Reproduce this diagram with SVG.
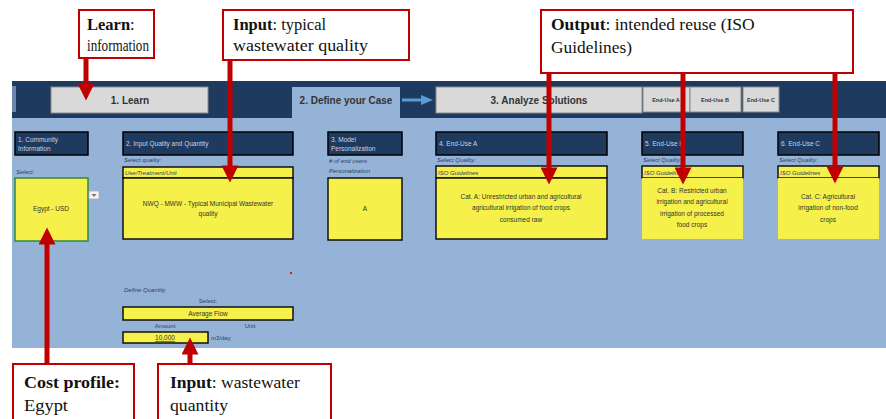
<svg xmlns="http://www.w3.org/2000/svg" width="886" height="419" viewBox="0 0 886 419">
<defs>
<marker id="ah" viewBox="0 0 10 10" refX="5" refY="5" markerWidth="4" markerHeight="3.4" markerUnits="strokeWidth" orient="auto">
<path d="M0,0 L10,5 L0,10 Z" fill="#c00000"/>
</marker>
</defs>
<style>
.call{fill:#fff;stroke:#c00000;stroke-width:2}
.ct{font-family:"Liberation Serif",serif;font-size:16.5px;fill:#111}
.b{font-weight:bold}
.hdr{fill:#1f3a5f;stroke:#000;stroke-width:1.5}
.ht{font-family:"Liberation Sans",sans-serif;font-size:6.5px;fill:#c8d4e6}
.yel{fill:#f5f04a;stroke:#111;stroke-width:1.5}
.yt{font-family:"Liberation Sans",sans-serif;font-size:6.5px;fill:#333;text-anchor:middle}
.lbl{font-family:"Liberation Sans",sans-serif;font-size:6px;fill:#2b3f66;font-style:italic}
.lblc{font-family:"Liberation Sans",sans-serif;font-size:6px;fill:#2b3f66;text-anchor:middle}
.btn{fill:#d9d9d9;stroke:#8a8a8a;stroke-width:1}
.bt{font-family:"Liberation Sans",sans-serif;font-weight:bold;fill:#333;text-anchor:middle}
.arr{stroke:#c00000;stroke-width:5;fill:none;marker-end:url(#ah)}
</style>
<rect width="886" height="419" fill="#fff"/>
<g id="panel">
<rect x="12" y="81" width="874" height="267" fill="#95b3d7"/>
<rect x="12" y="81" width="874" height="37" fill="#1f3a5f"/>
<rect x="12" y="86" width="4" height="26" fill="#6b86ad"/>
<rect x="292" y="87" width="108" height="31" fill="#95b3d7"/>
<text x="346" y="104" class="bt" font-size="10">2. Define your Case</text>
<path d="M402,100 H424" stroke="#5b9bd5" stroke-width="3"/>
<path d="M421,95 L433,100 L421,105 Z" fill="#5b9bd5"/>
</g>
<g id="tab-learn">
<rect x="51" y="87" width="157" height="26" class="btn"/>
<text x="130" y="104" class="bt" font-size="10">1. Learn</text>
</g>
<g id="tab-analyze">
<rect x="436" y="87" width="206" height="26" class="btn"/>
<text x="539" y="104" class="bt" font-size="10">3. Analyze Solutions</text>
<rect x="643" y="87" width="47" height="25" class="btn"/>
<text x="666" y="102" class="bt" font-size="5.5">End-Use A</text>
<rect x="690" y="87" width="51" height="25" class="btn"/>
<text x="715" y="102" class="bt" font-size="5.5">End-Use B</text>
<rect x="743" y="87" width="36" height="25" class="btn"/>
<text x="761" y="102" class="bt" font-size="5.5">End-Use C</text>
</g>
<g id="col1">
<rect x="15" y="132" width="73" height="23" class="hdr"/>
<text x="18" y="142" class="ht">1. Community</text>
<text x="18" y="151" class="ht">Information</text>
<text x="16" y="174" class="lbl">Select:</text>
<rect x="15" y="178" width="73" height="63" fill="#f5f04a" stroke="#2e8b3a" stroke-width="1.5"/>
<text x="51" y="211" class="yt">Egypt - USD</text>
<rect x="89" y="191" width="10" height="8" fill="#f2f2f2" stroke="#aaa" stroke-width="0.7"/>
<path d="M91.5,194 L96.5,194 L94,197 Z" fill="#777"/>
</g>
<g id="col2">
<rect x="123" y="132" width="170" height="23" class="hdr"/>
<text x="126" y="146" class="ht">2. Input Quality and Quantity</text>
<text x="124" y="162" class="lbl">Select quality:</text>
<rect x="123" y="167" width="170" height="11" class="yel"/>
<text x="125" y="175" class="lbl" fill="#333">Use/Treatment/Unit</text>
<rect x="123" y="178" width="170" height="61" class="yel"/>
<text x="208" y="206" class="yt">NWQ - MWW - Typical Municipal Wastewater</text>
<text x="208" y="216" class="yt">quality</text>
<circle cx="291" cy="273" r="1.2" fill="#e02020"/>
</g>
<g id="col3">
<rect x="328" y="132" width="74" height="23" class="hdr"/>
<text x="331" y="142" class="ht">3. Model</text>
<text x="331" y="151" class="ht">Personalization</text>
<text x="329" y="163" class="lbl"># of end users</text>
<text x="329" y="173" class="lbl">Personalization</text>
<rect x="328" y="178" width="74" height="62" class="yel"/>
<text x="365" y="211" class="yt">A</text>
</g>
<g id="col4">
<rect x="436" y="132" width="171" height="23" class="hdr"/>
<text x="439" y="146" class="ht">4. End-Use A</text>
<text x="437" y="162" class="lbl">Select Quality:</text>
<rect x="436" y="166" width="171" height="12" class="yel"/>
<text x="438" y="174.5" class="lbl" fill="#333">ISO Guidelines</text>
<rect x="436" y="178" width="171" height="61" class="yel"/>
<text x="521" y="199" class="yt">Cat. A: Unrestricted urban and agricultural</text>
<text x="521" y="210" class="yt">agricultural irrigation of food crops</text>
<text x="521" y="222" class="yt">consumed raw</text>
</g>
<g id="col5">
<rect x="642" y="132" width="101" height="23" class="hdr"/>
<text x="645" y="146" class="ht">5. End-Use B</text>
<text x="643" y="162" class="lbl">Select Quality:</text>
<rect x="642" y="166" width="101" height="12" class="yel"/>
<text x="644" y="174.5" class="lbl" fill="#333">ISO Guidelines</text>
<rect x="642" y="178" width="101" height="61" fill="#f5f04a"/>
<text x="692" y="193" class="yt">Cat. B: Restricted urban</text>
<text x="692" y="204" class="yt">irrigation and agricultural</text>
<text x="692" y="216" class="yt">irrigation of processed</text>
<text x="692" y="227" class="yt">food crops</text>
</g>
<g id="col6">
<rect x="778" y="132" width="101" height="23" class="hdr"/>
<text x="781" y="146" class="ht">6. End-Use C</text>
<text x="779" y="162" class="lbl">Select Quality:</text>
<rect x="778" y="166" width="101" height="12" class="yel"/>
<text x="780" y="174.5" class="lbl" fill="#333">ISO Guidelines</text>
<rect x="778" y="178" width="101" height="61" fill="#f5f04a"/>
<text x="828" y="199" class="yt">Cat. C: Agricultural</text>
<text x="828" y="210" class="yt">irrigation of non-food</text>
<text x="828" y="222" class="yt">crops</text>
</g>
<g id="quantity">
<text x="124" y="292" class="lbl">Define Quantity</text>
<text x="208" y="303" class="lblc">Select:</text>
<rect x="123" y="307" width="170" height="13" class="yel"/>
<text x="208" y="316" class="yt">Average Flow</text>
<text x="165" y="328" class="lblc">Amount</text>
<text x="250" y="328" class="lblc">Unit</text>
<rect x="123" y="332" width="85" height="11" class="yel"/>
<text x="165" y="340" class="yt" text-decoration="underline">10,000</text>
<text x="211" y="340" class="lbl" style="font-style:normal">m3/day</text>
</g>
<g id="connectors">
<path d="M86,58 V92" class="arr"/>
<path d="M230,60 V174" class="arr"/>
<path d="M549,73 V176" class="arr"/>
<path d="M683,73 V176" class="arr"/>
<path d="M835,73 V175" class="arr"/>
<path d="M47,364 V236" class="arr"/>
<path d="M190,364 V346" class="arr"/>
</g>
<g id="callout-learn">
<rect x="79" y="10" width="75" height="48" class="call"/>
<text x="87" y="30" class="ct"><tspan class="b">Learn</tspan>:</text>
<text x="87" y="51" class="ct" textLength="62" lengthAdjust="spacingAndGlyphs">information</text>
</g>
<g id="callout-input-quality">
<rect x="223" y="10" width="186" height="50" class="call"/>
<text x="233" y="30" class="ct"><tspan class="b">Input</tspan>: typical</text>
<text x="233" y="51" class="ct" textLength="135" lengthAdjust="spacingAndGlyphs">wastewater quality</text>
</g>
<g id="callout-output">
<rect x="541" y="10" width="312" height="63" class="call"/>
<text x="551" y="30" class="ct" style="font-size:17.5px"><tspan class="b">Output</tspan>: intended reuse (ISO</text>
<text x="551" y="53" class="ct" textLength="81" lengthAdjust="spacingAndGlyphs">Guidelines)</text>
</g>
<g id="callout-cost">
<rect x="13" y="364" width="121" height="56" class="call"/>
<text x="24" y="388" class="ct b" textLength="96" lengthAdjust="spacingAndGlyphs">Cost profile:</text>
<text x="24" y="411" class="ct" textLength="44" lengthAdjust="spacingAndGlyphs">Egypt</text>
</g>
<g id="callout-quantity">
<rect x="158" y="364" width="173" height="56" class="call"/>
<text x="170" y="388" class="ct" style="font-size:17.5px"><tspan class="b">Input</tspan>: wastewater</text>
<text x="170" y="411" class="ct" textLength="58" lengthAdjust="spacingAndGlyphs">quantity</text>
</g>
</svg>
